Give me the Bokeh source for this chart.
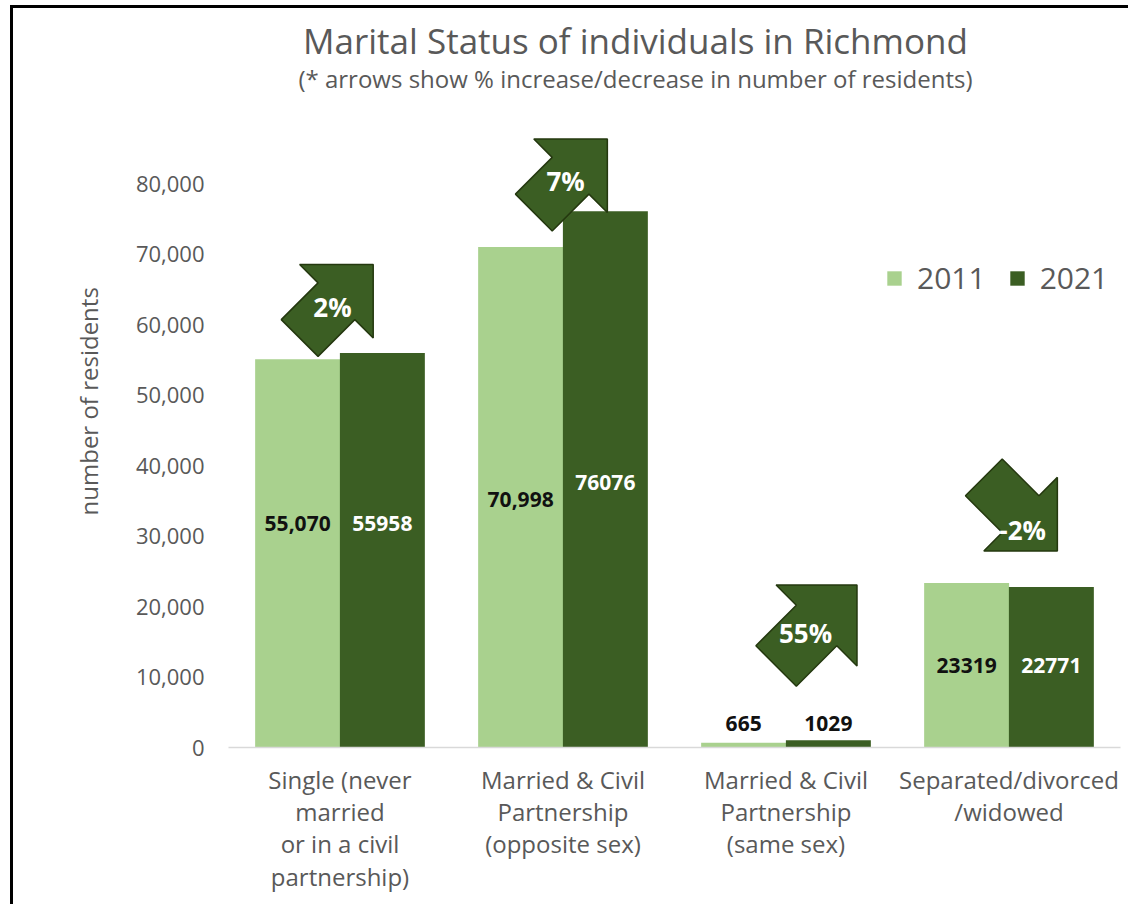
import math
from bokeh.plotting import figure
from bokeh.models import Range1d, FixedTicker, NumeralTickFormatter, Label, Legend, LegendItem, InlineStyleSheet
from bokeh.embed import file_html
from bokeh.resources import INLINE
from bokeh.core.properties import value

# ---------------- data ----------------
categories = [
    "Single (never\nmarried\nor in a civil\npartnership)",
    "Married & Civil\nPartnership\n(opposite sex)",
    "Married & Civil\nPartnership\n(same sex)",
    "Separated/divorced\n/widowed",
]
years = ["2011", "2021"]
residents_2011 = [55070, 70998, 665, 23319]
residents_2021 = [55958, 76076, 1029, 22771]
labels_2011 = ["55,070", "70,998", "665", "23319"]
labels_2021 = ["55958", "76076", "1029", "22771"]
change_labels = ["2%", "7%", "55%", "-2%"]
y_ticks = [0, 10000, 20000, 30000, 40000, 50000, 60000, 70000, 80000]

title_text = "Marital Status of individuals in Richmond"
subtitle_text = "(* arrows show % increase/decrease in number of residents)"
y_label = "number of residents"

# ---------------- layout / style ----------------
FONT = "Open Sans"
GREY = "#595959"
LIGHT = "#a9d18e"
DARK = "#3b5e23"
FRAME_W, FRAME_H = 892, 736
Y_MAX = 104400
N = len(categories)
PX_PER_X = FRAME_W / N            # px per x unit
UNITS_PER_PX_Y = Y_MAX / FRAME_H   # data units per px
BAR_W = 0.381
OFF = 0.19

# value-label heights and colours (layout only)
label_y_2011 = [31800, 35200, 3400, 11600]
label_y_2021 = [31800, 37600, 3400, 11600]
label_col_2011 = ["#111111"] * 4
label_col_2021 = ["white", "white", "#111111", "white"]

# arrow placement (layout only)
arrow_x = [0.484, 1.534, 2.637, 3.552]
arrow_y = [63300, 81100, 17300, 33100]
arrow_angle = [45, 45, 45, -45]
arrow_scale = [1.0, 1.0, 1.1, 1.0]
arrow_text_dpx = [(-4, -6), (-5, -5), (-11, -7), (2, -16)]

p = figure(
    width=1118, height=899,
    x_range=Range1d(0, N), y_range=Range1d(0, Y_MAX),
    output_backend="svg", toolbar_location=None,
    min_border_left=215, min_border_right=11, min_border_top=3, min_border_bottom=160,
)
p.stylesheets = [InlineStyleSheet(css=":host { margin-left: 13px; margin-top: 8px; box-shadow: -3px -3px 0px 0px black; }")]
p.outline_line_color = None
p.xgrid.visible = False
p.ygrid.visible = False
p.background_fill_color = "white"
p.border_fill_color = "white"

centers = [i + 0.5 for i in range(N)]
x2011 = [c - OFF for c in centers]
x2021 = [c + OFF for c in centers]

r1 = p.vbar(x=x2011, top=residents_2011, width=BAR_W, fill_color=LIGHT, line_color=None)
r2 = p.vbar(x=x2021, top=residents_2021, width=BAR_W, fill_color=DARK, line_color=None)

p.text(x=x2011, y=label_y_2011, text=labels_2011, text_align="center", text_baseline="middle",
       text_font=value(FONT), text_font_style="bold", text_font_size="21px", text_color=label_col_2011)
p.text(x=x2021, y=label_y_2021, text=labels_2021, text_align="center", text_baseline="middle",
       text_font=value(FONT), text_font_style="bold", text_font_size="21px", text_color=label_col_2021)

# block arrows
shape = [(-52, -26), (0, -26), (0, -52), (52, 0), (0, 52), (0, 26), (-52, 26)]
xs, ys, tx, ty = [], [], [], []
for cx, cy, ang, sc, (dx, dy) in zip(arrow_x, arrow_y, arrow_angle, arrow_scale, arrow_text_dpx):
    t = math.radians(ang)
    px, py = [], []
    for u, v in shape:
        u *= sc
        v *= sc
        ox = u * math.cos(t) - v * math.sin(t)
        oy = u * math.sin(t) + v * math.cos(t)
        px.append(cx + ox / PX_PER_X)
        py.append(cy + oy * UNITS_PER_PX_Y)
    xs.append(px)
    ys.append(py)
    tx.append(cx + dx / PX_PER_X)
    ty.append(cy + dy * UNITS_PER_PX_Y)

p.patches(xs, ys, fill_color=DARK, line_color="#24380f", line_width=1.5)
p.text(x=tx, y=ty, text=change_labels, text_align="center", text_baseline="middle",
       text_font=value(FONT), text_font_style="bold", text_font_size="26px", text_color="white")

# titles
p.add_layout(Label(x=1.825, y=(747 - 40) * UNITS_PER_PX_Y, text=title_text, text_align="center",
                   text_baseline="middle", text_font=FONT, text_font_size="35px", text_color=GREY))
p.add_layout(Label(x=1.825, y=(747 - 78) * UNITS_PER_PX_Y, text=subtitle_text, text_align="center",
                   text_baseline="middle", text_font=FONT, text_font_size="24px", text_color=GREY))

# axes
p.yaxis.ticker = FixedTicker(ticks=y_ticks)
p.yaxis.formatter = NumeralTickFormatter(format="0,0")
p.yaxis.axis_line_color = None
p.yaxis.major_tick_line_color = None
p.yaxis.minor_tick_line_color = None
p.yaxis.major_label_standoff = 18
p.yaxis.major_label_text_font = FONT
p.yaxis.major_label_text_font_size = "22px"
p.yaxis.major_label_text_color = GREY
p.yaxis.axis_label = y_label + "\u00a0" * 7
p.yaxis.axis_label_text_font = FONT
p.yaxis.axis_label_text_font_style = "normal"
p.yaxis.axis_label_text_font_size = "24px"
p.yaxis.axis_label_text_color = GREY
p.yaxis.axis_label_standoff = 28

p.xaxis.ticker = FixedTicker(ticks=centers)
p.xaxis.major_label_overrides = {c: lab for c, lab in zip(centers, categories)}
p.xaxis.axis_line_color = "#d9d9d9"
p.xaxis.axis_line_width = 1.5
p.xaxis.major_tick_line_color = None
p.xaxis.minor_tick_line_color = None
p.xaxis.major_label_standoff = 9
p.xaxis.major_label_text_font = FONT
p.xaxis.major_label_text_font_size = "24px"
p.xaxis.major_label_text_color = GREY
p.xaxis.major_label_text_line_height = 0.98

legend = Legend(
    items=[LegendItem(label=years[0], renderers=[r1]), LegendItem(label=years[1], renderers=[r2])],
    orientation="horizontal", location=(657, 449),
    label_text_font=FONT, label_text_font_size="30px", label_text_color=GREY,
    glyph_width=18, glyph_height=18, label_standoff=14, spacing=22,
    padding=0, margin=0, background_fill_alpha=0, border_line_alpha=0,
)
p.add_layout(legend)

open("out.html", "w").write(file_html(p, INLINE))
